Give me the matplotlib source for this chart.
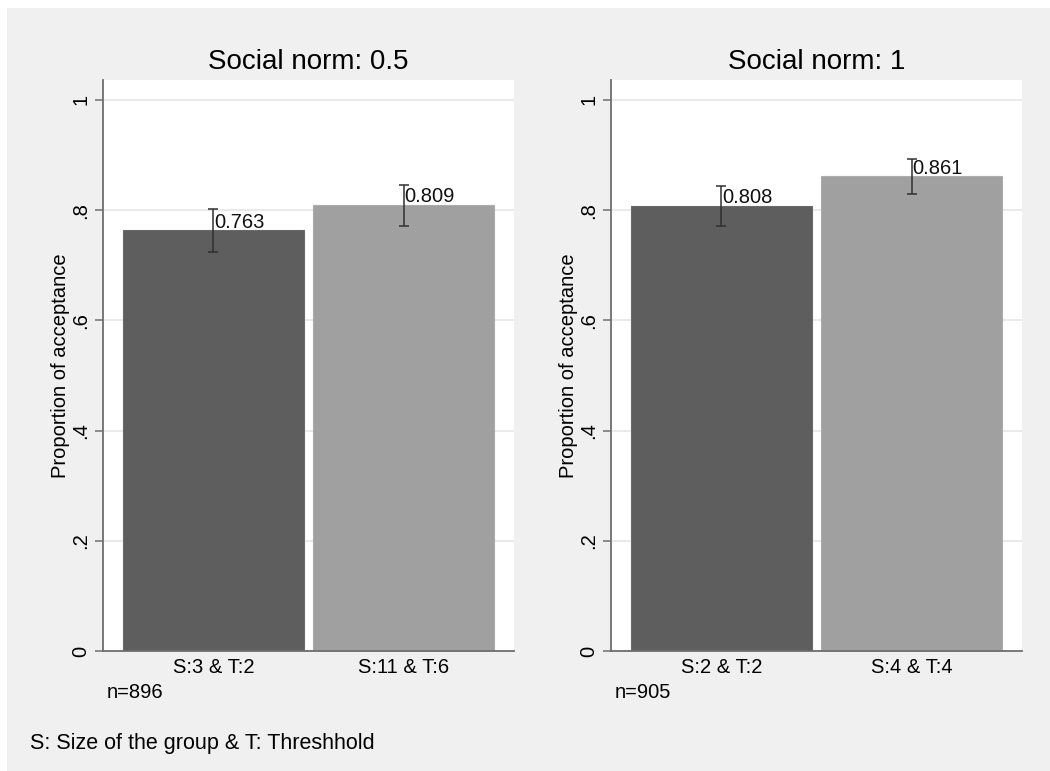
import matplotlib
matplotlib.use("Agg")
import matplotlib.pyplot as plt
from matplotlib.patches import Rectangle

plt.rcParams['font.family'] = ['Liberation Sans', 'DejaVu Sans']

# acceptance by treatment, one panel per social norm level
panel_titles = ["Social norm: 0.5", "Social norm: 1"]
group_labels = [["S:3 & T:2", "S:11 & T:6"], ["S:2 & T:2", "S:4 & T:4"]]
means = [[0.763, 0.809], [0.808, 0.861]]
ci_low = [[0.724, 0.772], [0.771, 0.829]]
ci_high = [[0.802, 0.845], [0.844, 0.892]]
n_obs = [896, 905]
yticks = [0, 0.2, 0.4, 0.6, 0.8, 1.0]
ytick_labels = ["0", ".2", ".4", ".6", ".8", "1"]
note = "S: Size of the group & T: Threshhold"

bar_colors = ["#5e5e5e", "#a0a0a0"]
bg = "#f0f0f0"
W, H = 1050, 771

fig = plt.figure(figsize=(W / 100, H / 100), dpi=100)
fig.patch.set_facecolor("white")
fig.patches.append(Rectangle((7 / W, 0), 1, 1 - 8 / H, transform=fig.transFigure,
                             facecolor=bg, edgecolor="none", zorder=-10))

lefts = [103, 611]
for p in range(2):
    ax = fig.add_axes([lefts[p] / W, (H - 651) / H, 411 / W, 571 / H])
    ax.set_facecolor("white")
    x = [1, 2]
    ax.bar(x, means[p], width=0.953, color=bar_colors, edgecolor=["#6a6a6a", "#acacac"],
           linewidth=0.8, zorder=2)
    err_lo = [m - lo for m, lo in zip(means[p], ci_low[p])]
    err_hi = [hi - m for m, hi in zip(means[p], ci_high[p])]
    ax.errorbar(x, means[p], yerr=[err_lo, err_hi], fmt="none", ecolor="#303030",
                elinewidth=1.1, capsize=3.5, capthick=1.1, zorder=3)
    for xi, m in zip(x, means[p]):
        ax.annotate(f"{m:.3f}", xy=(xi, m), xytext=(0.5, 2), textcoords="offset points",
                    ha="left", va="baseline", fontsize=14.5, color="#111111", zorder=4)

    ax.set_xlim(0.42, 2.58)
    ax.set_ylim(0, 1.036)
    ax.set_yticks(yticks)
    ax.set_yticklabels(ytick_labels, rotation=90, va="center", fontsize=14.5)
    ax.set_xticks(x)
    ax.set_xticklabels(group_labels[p], fontsize=14.5)
    ax.tick_params(axis="x", length=0, pad=5)
    ax.tick_params(axis="y", length=6, width=1.1, color="#707070", pad=3)
    ax.yaxis.grid(True, color="#e8e8e8", linewidth=1.3, zorder=0)
    ax.set_axisbelow(True)
    for side in ["top", "right"]:
        ax.spines[side].set_visible(False)
    for side in ["left", "bottom"]:
        ax.spines[side].set_color("#6e6e6e")
        ax.spines[side].set_linewidth(1.3)
    ax.set_ylabel("Proportion of acceptance", fontsize=14.5, labelpad=1)
    ax.set_title(panel_titles[p], fontsize=20, pad=8)
    fig.text((lefts[p] + 4) / W, 1 - 693 / H, f"n={n_obs[p]}", fontsize=14.5,
             ha="left", va="center")

fig.text(30 / W, 1 - 743 / H, note, fontsize=15.5, ha="left", va="center")

fig.savefig("out.png", dpi=100, facecolor=fig.get_facecolor())
